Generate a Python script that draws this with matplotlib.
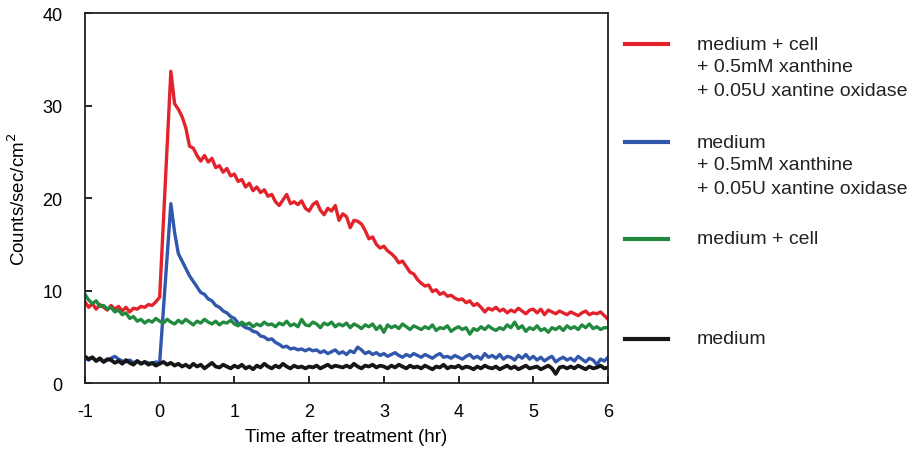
import numpy as np
import matplotlib.pyplot as plt
from matplotlib.lines import Line2D

plt.rcParams['font.family'] = ['Liberation Sans', 'DejaVu Sans']
plt.rcParams['axes.unicode_minus'] = False

# time grid, hr (every 3 min)
time_hr = np.round(np.arange(141) * 0.05 - 1.0, 2)

# medium + cell + 0.5mM xanthine + 0.05U xantine oxidase
cell_xo = [
    8.8, 8.2, 8.6, 8.0, 8.5, 8.2, 7.9, 8.4, 8.0, 8.3,
    7.8, 8.2, 7.7, 8.1, 8.0, 8.3, 8.2, 8.5, 8.4, 8.8,
    9.3, 17.5, 25.8, 33.7, 30.2, 29.6, 28.8, 27.6, 25.6, 25.4,
    24.6, 24.0, 24.6, 23.9, 24.3, 23.3, 23.5, 22.8, 23.2, 22.4,
    22.6, 21.8, 22.0, 21.2, 21.6, 20.8, 21.2, 20.6, 20.9, 20.2,
    20.4, 19.6, 19.2, 19.8, 20.4, 19.4, 19.6, 19.3, 19.7, 18.9,
    18.6, 19.3, 19.6, 18.7, 18.2, 18.9, 18.6, 19.2, 17.6, 18.3,
    18.0, 16.8, 17.6, 17.5, 17.2, 16.5, 15.6, 15.8, 15.0, 14.6,
    14.8, 14.3, 14.0, 13.6, 13.0, 13.2, 12.6, 12.0, 11.8, 11.2,
    10.8, 10.5, 10.6, 9.9, 10.1, 9.6, 9.8, 9.4, 9.5, 9.2,
    9.0, 9.1, 8.7, 8.9, 8.4, 8.6, 8.2, 7.7, 8.1, 7.9,
    8.2, 7.8, 8.0, 7.6, 7.9, 7.7, 8.1, 7.8, 7.5, 7.9,
    8.0, 7.6, 8.0, 7.4, 7.9, 7.7, 7.5, 7.8, 7.6, 7.4,
    7.7, 7.5, 7.3, 7.6, 7.8, 7.4, 7.6, 7.5, 7.7, 7.3,
    6.9,
]

# medium + 0.5mM xanthine + 0.05U xantine oxidase
medium_xo = [
    2.7, 2.5, 2.8, 2.4, 2.6, 2.3, 2.5, 2.7, 2.9, 2.6,
    2.4, 2.3, 2.5, 2.2, 2.4, 2.1, 2.3, 2.2, 2.1, 2.3,
    2.2, 7.9, 13.7, 19.4, 16.3, 14.0, 13.2, 12.4, 11.6, 11.0,
    10.4, 9.8, 9.6, 9.1, 8.9, 8.4, 8.2, 7.8, 7.6, 7.2,
    7.0, 6.5, 6.3, 6.0, 5.9, 5.6, 5.5, 5.1, 5.0, 4.7,
    4.8, 4.4, 4.2, 3.9, 4.0, 3.7, 3.8, 3.6, 3.7, 3.5,
    3.7, 3.5, 3.6, 3.3, 3.5, 3.2, 3.4, 3.6, 3.2, 3.4,
    3.1, 3.5, 3.3, 3.9, 3.6, 3.2, 3.4, 3.1, 3.3, 3.0,
    3.2, 2.9, 3.1, 3.3, 3.0, 2.8, 3.1, 2.9, 3.2, 3.0,
    2.8, 3.1, 2.9, 2.7, 3.0, 3.2, 2.8, 2.9, 2.7, 3.0,
    2.8, 2.6, 2.9, 3.1, 2.7, 2.9, 2.6, 3.2, 2.8, 3.0,
    2.7, 3.1, 2.6, 2.9, 2.8, 2.5, 3.0, 2.7, 3.1, 2.6,
    2.9, 2.5, 2.8, 2.4, 2.7, 2.9, 2.3, 2.6, 2.8, 2.5,
    2.7, 2.4, 2.9, 2.6, 2.3, 2.7, 2.5, 2.0, 2.6, 2.4,
    2.8,
]

# medium + cell
cell_only = [
    9.6, 9.0, 8.6, 8.9, 8.3, 8.4, 8.0, 8.2, 7.7, 7.9,
    7.4, 7.6, 7.0, 7.2, 6.7, 6.9, 6.5, 6.8, 6.6, 7.0,
    6.7, 6.5, 6.9, 6.6, 6.4, 6.8, 6.5, 6.9, 6.6, 6.3,
    6.7, 6.5, 6.9, 6.6, 6.4, 6.7, 6.3, 6.6, 6.5, 6.8,
    6.4, 6.2, 6.6, 6.3, 6.5, 6.1, 6.4, 6.2, 6.6, 6.3,
    6.4, 6.1, 6.5, 6.3, 6.7, 6.2, 6.4, 6.1, 6.9, 6.3,
    6.2, 6.6, 6.4, 6.0, 6.5, 6.3, 6.6, 6.1, 6.4, 6.2,
    6.5, 6.0, 6.4, 6.2, 5.9, 6.3, 6.1, 6.4, 5.8, 6.2,
    5.5, 6.3, 6.0, 6.2, 5.9, 6.4, 6.1, 5.8, 6.2, 6.0,
    5.8, 6.1, 5.9, 6.3, 5.7, 6.0, 5.9, 6.2, 5.6, 5.9,
    6.1, 5.8, 6.0, 5.3, 5.9, 5.7, 6.1, 5.8, 6.2, 5.9,
    5.7, 6.0, 5.8, 6.3, 6.0, 6.6, 5.9, 6.2, 5.6, 6.0,
    5.8, 6.2, 5.7, 5.9, 5.5, 6.0, 5.8, 6.1, 5.7, 6.2,
    5.9, 6.1, 5.8, 6.3, 6.0, 6.4, 5.9, 6.1, 5.8, 6.0,
    6.0,
]

# medium only
medium_only = [
    2.9, 2.6, 2.8, 2.4, 2.7, 2.3, 2.6, 2.5, 2.2, 2.4,
    2.1, 2.5, 2.2, 2.0, 2.4, 2.1, 2.3, 2.0, 2.2, 1.9,
    2.1, 2.3, 2.0, 2.2, 1.9, 2.1, 1.8, 2.0, 1.7, 2.1,
    1.8, 2.0, 1.6, 1.9, 2.2, 1.8, 1.7, 2.0, 1.8, 1.6,
    1.9, 1.7, 2.0, 1.6, 1.8, 1.5, 1.9, 1.7, 2.1, 1.8,
    1.6, 1.9, 1.7, 2.1, 1.8, 1.6, 1.9, 1.7, 1.8, 1.6,
    1.8, 1.7, 1.9, 1.6, 1.8, 2.0, 1.7, 1.9, 1.8, 1.7,
    1.9, 1.7, 2.1, 1.8, 1.6, 1.9, 1.8, 2.0, 1.7, 1.9,
    1.8, 1.6, 1.9, 1.7, 2.0, 1.8, 1.6, 1.9, 1.7, 1.8,
    1.6, 1.9, 1.7, 1.5, 1.8, 1.7, 2.0, 1.6, 1.8, 1.7,
    1.9, 1.6, 1.8, 1.7, 1.5, 1.8, 1.6, 1.9, 1.7, 1.6,
    1.8, 1.5, 1.7, 1.9, 1.6, 1.8, 1.5, 1.7, 1.9, 1.6,
    1.7, 1.8, 1.5, 1.7, 1.9, 1.6, 1.0, 1.7, 1.8, 1.6,
    1.8, 1.6, 1.9, 1.7, 1.5, 1.8, 1.6, 1.7, 1.9, 1.6,
    1.7,
]

series = [cell_xo, medium_xo, cell_only, medium_only]
colors = ['#e3232c', '#3157ad', '#218a3e', '#161616']
widths = [2.4, 2.4, 2.4, 2.7]
legend_labels = [
    ['medium + cell', '+ 0.5mM xanthine', '+ 0.05U xantine oxidase'],
    ['medium', '+ 0.5mM xanthine', '+ 0.05U xantine oxidase'],
    ['medium + cell'],
    ['medium'],
]

fig = plt.figure(figsize=(9.13, 4.52), dpi=100)
ax = fig.add_axes([0.093, 0.150, 0.573, 0.819])

for vals, col, lw in zip(series, colors, widths):
    ax.plot(time_hr, vals, color=col, lw=lw, solid_joinstyle='round')

ax.set_xlim(-1, 6)
ax.set_ylim(0, 40)
ax.set_xticks(range(-1, 7))
ax.set_yticks([0, 10, 20, 30, 40])
ax.tick_params(direction='in', length=5, width=1.2, labelsize=13,
               top=False, right=False)
ax.tick_params(axis='y', pad=16)
ax.tick_params(axis='x', pad=14)
for sp in ax.spines.values():
    sp.set_linewidth(1.3)
    sp.set_color('#222222')

ax.set_xlabel('Time after treatment (hr)', fontsize=13.5, labelpad=6)
ax.set_ylabel('Counts/sec/cm$^2$', fontsize=13.5, labelpad=10)

# legend drawn by hand: key line + stacked text lines
key_y = [45, 143, 240, 340]
for ky, col, lines in zip(key_y, colors, legend_labels):
    yf = 1 - ky / 452
    fig.add_artist(Line2D([625 / 913, 668 / 913], [yf, yf],
                          transform=fig.transFigure, color=col, lw=3))
    for k, txt in enumerate(lines):
        fig.text(697 / 913, 1 - (ky + 23 * k) / 452, txt,
                 fontsize=14, va='center', ha='left', color='#222222')

fig.savefig('out.png', dpi=100)
